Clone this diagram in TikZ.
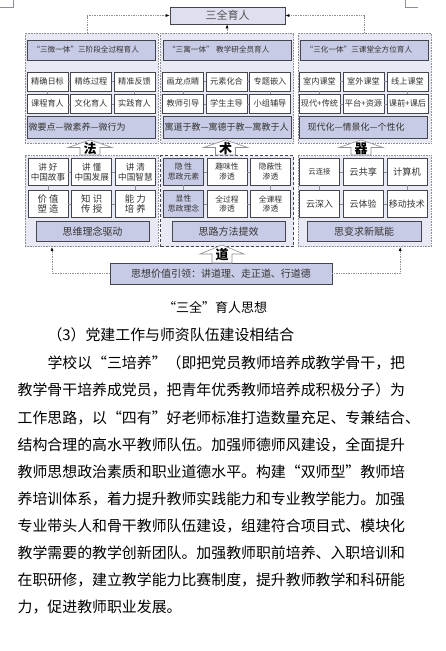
\documentclass[tikz,border=0pt]{standalone}
\usepackage{fontspec}
\setmainfont{Noto Sans CJK SC}
\usetikzlibrary{arrows.meta,positioning,calc}
\definecolor{Ink}{HTML}{333333}
\definecolor{Frame}{HTML}{45454D}
\definecolor{Dots}{HTML}{8E8E96}
\definecolor{Panel}{HTML}{E7E9F4}
\definecolor{Lilac}{HTML}{C8CBE5}
\definecolor{PaleLilac}{HTML}{DEE0F0}
\tikzset{
  panel/.style={draw=Dots, densely dotted, fill=Panel, line width=0.6pt, minimum width=133pt, inner sep=0pt},
  panelhi/.style={panel, draw=Frame, densely dashed},
  head/.style={draw=Frame, fill=Lilac, line width=0.7pt, text=Ink, minimum height=20pt, text width=118pt, align=left, inner xsep=5pt, inner ysep=0pt, font=\fontsize{7.6}{9}\selectfont},
  cell/.style={draw=Frame, fill=white, line width=0.6pt, text=Ink, align=center, inner sep=0pt, minimum width=41pt, font=\fontsize{8.2}{9.4}\selectfont},
  cellhi/.style={cell, fill=Lilac},
  base/.style={draw=Frame, fill=Lilac, line width=0.7pt, text=Ink, inner sep=0pt},
  link/.style={draw=Dots, line width=0.5pt},
  guide/.style={draw=Dots, densely dotted, line width=0.7pt, -{Latex[length=4pt,width=3pt,color=black]}},
  bigarrow/.style={draw=Dots, fill=white, line width=0.6pt},
  arrowchar/.style={font=\fontsize{13}{13}\selectfont\bfseries, inner sep=0pt},
  bodyline/.style={anchor=west, inner sep=0pt, font=\fontsize{14.9}{15}\selectfont}
}
\begin{document}
\begin{tikzpicture}[x=1pt,y=-1pt]
\useasboundingbox[fill=white] (0,0) rectangle (446,651);
% page corner marks
\draw[Dots, line width=0.5pt] (0,7) -- (13,7) -- (13,0) (418,7) -- (405,7) -- (405,0);

\node[base, fill=PaleLilac, minimum width=115pt, minimum height=17pt, font=\fontsize{11}{11}\selectfont, text=Ink!85] (top) at (227.5,15.5) {三全育人};

% three upper panels
\node[panel, minimum height=110pt] (upL) at (91.5,88) {};
\node[panel, minimum height=110pt, right=2pt of upL] (upM) {};
\node[panel, minimum height=110pt, right=4pt of upM] (upR) {};
\node[head, below=7pt of upL.north] (hdL) {“三微一体”三阶段全过程育人};
\node[head, below=7pt of upM.north] (hdM) {“三寓一体” 教学研全员育人};
\node[head, below=7pt of upR.north] (hdR) {“三化一体”三课堂全方位育人};

\foreach \t [count=\i] in {精确日标,精练过程,精准反馈}
  \node[cell, minimum height=19pt] (uL1\i) at (4+43.5*\i,81.4) {\t};
\foreach \t [count=\i] in {课程育人,文化育人,实践育人}
  \node[cell, minimum height=19pt] (uL2\i) at (4+43.5*\i,103.8) {\t};
\foreach \t [count=\i] in {画龙点睛,元素化合,专题嵌入}
  \node[cell, minimum height=19pt] (uM1\i) at (139.5+43.5*\i,81.4) {\t};
\foreach \t [count=\i] in {教师引导,学生主导,小组辅导}
  \node[cell, minimum height=19pt] (uM2\i) at (139.5+43.5*\i,103.8) {\t};
\foreach \t [count=\i] in {室内课堂,室外课堂,线上课堂}
  \node[cell, minimum height=19pt] (uR1\i) at (275.5+44*\i,81.4) {\t};
\foreach \t [count=\i] in {现代+传统,平台+资源,课前+课后}
  \node[cell, minimum height=19pt] (uR2\i) at (275.5+44*\i,103.8) {\t};

\node[base, minimum width=128pt, minimum height=21.5pt, text width=125pt, align=left, inner xsep=1.5pt, font=\fontsize{9}{9}\selectfont] (mL) at (91,127.5) {微要点—微素养—微行为};
\node[base, minimum width=128pt, minimum height=21.5pt, text width=125pt, align=left, inner xsep=1.5pt, font=\fontsize{9}{9}\selectfont] (mM) at (227,127.5) {寓道于教—寓德于教—寓教于人};
\node[base, minimum width=128pt, minimum height=21.5pt, text width=112pt, align=left, inner xsep=8pt, font=\fontsize{9}{9}\selectfont] (mR) at (363.5,127.5) {现代化—情景化—个性化};

% three lower panels
\node[panel, minimum height=91pt, below=12pt of upL] (lpL) {};
\node[panelhi, minimum height=91pt, right=2pt of lpL] (lpM) {};
\node[panel, minimum height=91pt, right=4pt of lpM] (lpR) {};

\foreach \t [count=\i] in {讲 好\\中国故事,讲 懂\\中国发展,讲 清\\中国智慧}
  \node[cell, minimum width=40pt, minimum height=26.5pt, font=\fontsize{8.6}{10}\selectfont] (lL1\i) at (4.3+43.7*\i,171.75) {\t};
\foreach \t [count=\i] in {价 值\\塑 造,知 识\\传 授,能 力\\培 养}
  \node[cell, minimum width=40pt, minimum height=26.5pt, font=\fontsize{9.4}{10.5}\selectfont] (lL2\i) at (4.3+43.7*\i,203.75) {\t};
\node[cellhi, minimum width=40pt, minimum height=26.5pt, font=\fontsize{7.8}{9.5}\selectfont] (lM11) at (183.5,171.75) {隐 性\\思政元素};
\foreach \t [count=\i from 2] in {趣味性\\渗透,隐蔽性\\渗透}
  \node[cell, minimum width=40pt, minimum height=26.5pt, font=\fontsize{7.8}{9.5}\selectfont] (lM1\i) at (140+43.5*\i,171.75) {\t};
\node[cellhi, minimum width=40pt, minimum height=26.5pt, font=\fontsize{7.8}{9.5}\selectfont] (lM21) at (183.5,203.75) {显性\\思政理念};
\foreach \t [count=\i from 2] in {全过程\\渗透,全课程\\渗透}
  \node[cell, minimum width=40pt, minimum height=26.5pt, font=\fontsize{7.8}{9.5}\selectfont] (lM2\i) at (140+43.5*\i,203.75) {\t};
\node[cell, minimum width=40pt, minimum height=26.5pt, font=\fontsize{7.4}{9}\selectfont] (lR11) at (319.5,171.75) {云连接};
\foreach \t [count=\i from 2] in {云共享,计算机}
  \node[cell, minimum width=40pt, minimum height=26.5pt, font=\fontsize{9.2}{10}\selectfont] (lR1\i) at (275.8+43.7*\i,171.75) {\t};
\foreach \t [count=\i] in {云深入,云体验,移动技术}
  \node[cell, minimum width=40pt, minimum height=26.5pt, font=\fontsize{9}{10}\selectfont] (lR2\i) at (275.8+43.7*\i,203.75) {\t};

\foreach \p in {uL,uM,uR,lL,lM,lR}
  \draw[link] (\p11) -- (\p12) (\p12) -- (\p13) (\p21) -- (\p22) (\p22) -- (\p23)
              (\p11) -- (\p21) (\p13) -- (\p23);

\node[base, minimum width=113pt, minimum height=20.5pt, font=\fontsize{10}{10}\selectfont] (dL) at (92.5,231.25) {思维理念驱动};
\node[base, minimum width=113pt, minimum height=20.5pt, font=\fontsize{10}{10}\selectfont] (dM) at (228.5,231.25) {思路方法提效};
\node[base, minimum width=114pt, minimum height=20.5pt, font=\fontsize{10}{10}\selectfont] (dR) at (364,231.25) {思变求新赋能};

\node[base, minimum width=222pt, minimum height=21pt, font=\fontsize{10}{10}\selectfont] (lead) at (221,273.5) {思想价值引领：讲道理、走正道、行道德};

% block arrows between the layers
\foreach \ch/\cx/\ty/\my/\by [count=\k] in {法/90/140/147.5/155, 术/225.5/140/147.5/155, 器/361/140/147.5/155, 道/222/245/254/263} {
  \draw[bigarrow] (\cx,\ty) -- (\cx+22,\my) -- (\cx+10,\my) -- (\cx+10,\by)
    -- (\cx-10,\by) -- (\cx-10,\my) -- (\cx-22,\my) -- cycle;
  \node[arrowchar] (arr\k) at (\cx,{(\ty+\by)/2+1}) {\ch};
}

\draw[guide] ([xshift=-4.5pt]upL.north) |- (top.west);
\draw[guide] (upR.north) |- (top.east);
\draw[guide] (upM.north) -- (upM.north |- top.south);
\draw[guide] (lead.west) -| ([xshift=-39.5pt]lpL.south);
\draw[guide] (lead.east) -| ([xshift=35.5pt]lpR.south);

\node[font=\fontsize{13}{13}\selectfont] (cap) at (215,307) {“三全”育人思想};

% text below the figure
\node[bodyline] (sect) at (47.3,335) {（3）党建工作与师资队伍建设相结合};
\node[bodyline] (ln0) at (47.3,363.3) {学校以“三培养”（即把党员教师培养成教学骨干，把};
\foreach \t [count=\k] in {教学骨干培养成党员，把青年优秀教师培养成积极分子）为,
    工作思路，以“四有”好老师标准打造数量充足、专兼结合、,
    结构合理的高水平教师队伍。加强师德师风建设，全面提升,
    教师思想政治素质和职业道德水平。构建“双师型”教师培,
    养培训体系，着力提升教师实践能力和专业教学能力。加强,
    专业带头人和骨干教师队伍建设，组建符合项目式、模块化,
    教学需要的教学创新团队。加强教师职前培养、入职培训和,
    在职研修，建立教学能力比赛制度，提升教师教学和科研能,
    力，促进教师职业发展。}
  \node[bodyline] (ln\k) at (17.5,363.3+27.1*\k) {\t};
\end{tikzpicture}
\end{document}
